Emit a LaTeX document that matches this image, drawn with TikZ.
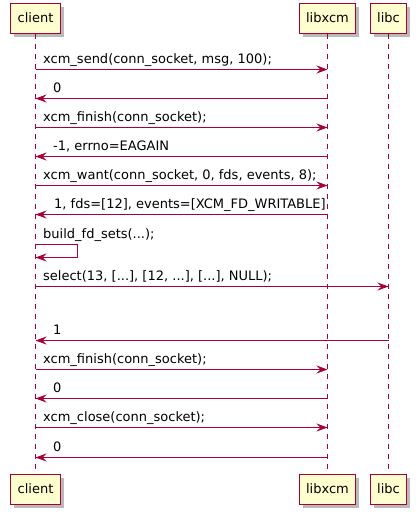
\documentclass[tikz,border=0pt]{standalone}
\usepackage{fontspec}
\setmainfont{DejaVu Sans}
\usetikzlibrary{arrows.meta,shadows}
\definecolor{umlred}{HTML}{A80036}
\definecolor{umlfill}{HTML}{FEFECE}
\tikzset{
  part/.style={draw=umlred, fill=umlfill, line width=1pt, minimum height=30pt, inner xsep=7pt, inner ysep=0pt,
    font=\fontsize{13}{15}\selectfont,
    drop shadow={shadow xshift=3.5pt, shadow yshift=-3.5pt, opacity=0.45, fill=black!60}},
  life/.style={draw=umlred, line width=1.1pt, dash pattern=on 5pt off 5pt},
  msg/.style={draw=umlred, line width=1pt, -{Stealth[length=11pt, width=8pt, inset=4pt]}},
  lbl/.style={anchor=base west, inner sep=0pt, font=\fontsize{13}{15}\selectfont},
}
\begin{document}
\begin{tikzpicture}[x=1pt, y=-1pt]
\useasboundingbox (0,0) rectangle (415,514);
% participants
\node[part] (clientT) at (35.5,18) {client};
\node[part] (libxcmT) at (327.5,18) {libxcm};
\node[part] (libcT) at (388.5,18) {libc};
\node[part] (clientB) at (35.5,489) {client};
\node[part] (libxcmB) at (327.5,489) {libxcm};
\node[part] (libcB) at (388.5,489) {libc};
% anchor coordinates
\coordinate (C) at (clientT.south);
\coordinate (X) at (libxcmT.south);
\coordinate (L) at (libcT.south);
% messages
\draw[msg] (C |- 0,69.5) -- (X |- 0,69.5);
\node[lbl] (m1) at (43,63.3) {xcm\_send(conn\_socket, msg, 100);};
\draw[msg] (X |- 0,98.5) -- (C |- 0,98.5);
\node[lbl] (m2) at (53,92.3) {0};
\draw[msg] (C |- 0,127.5) -- (X |- 0,127.5);
\node[lbl] (m3) at (43,121.7) {xcm\_finish(conn\_socket);};
\draw[msg] (X |- 0,156.5) -- (C |- 0,156.5);
\node[lbl] (m4) at (53,150.7) {-1, errno=EAGAIN};
\draw[msg] (C |- 0,185.5) -- (X |- 0,185.5);
\node[lbl] (m5) at (43,179) {xcm\_want(conn\_socket, 0, fds, events, 8);};
\draw[msg] (X |- 0,214.5) -- (C |- 0,214.5);
\node[lbl] (m6) at (54,208) {1, fds=[12], events=[XCM\_FD\_WRITABLE]};
\coordinate (S) at (77.5,244.5);
\draw[msg] (C |- 0,244.5) -- (S) -- (S |- 0,257.5) -- (C |- 0,257.5);
\node[lbl] (m7) at (43,238.3) {build\_fd\_sets(...);};
\draw[msg] (C |- 0,286.5) -- (L |- 0,286.5);
\node[lbl] (m8) at (43,280.7) {select(13, [...], [12, ...], [...], NULL);};
\draw[msg] (L |- 0,340.5) -- (C |- 0,340.5);
\node[lbl] (m9) at (53,334.3) {1};
\draw[msg] (C |- 0,369.5) -- (X |- 0,369.5);
\node[lbl] (m10) at (43,363.3) {xcm\_finish(conn\_socket);};
\draw[msg] (X |- 0,398.5) -- (C |- 0,398.5);
\node[lbl] (m11) at (53,392.7) {0};
\draw[msg] (C |- 0,427.5) -- (X |- 0,427.5);
\node[lbl] (m12) at (43,421) {xcm\_close(conn\_socket);};
\draw[msg] (X |- 0,457.5) -- (C |- 0,457.5);
\node[lbl] (m13) at (53,451.3) {0};
% lifelines
\draw[life] (clientT.south) -- (clientB.north);
\draw[life] (libxcmT.south) -- (libxcmB.north);
\draw[life] (libcT.south) -- (libcB.north);
\end{tikzpicture}
\end{document}
